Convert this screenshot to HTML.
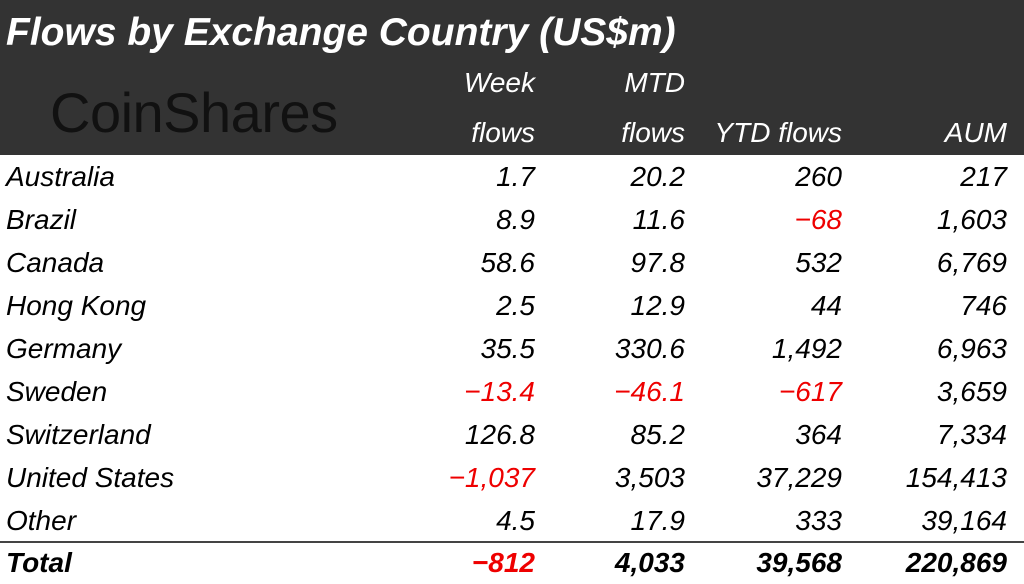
<!DOCTYPE html>
<html><head><style>
body{margin:0;width:1024px;height:584px;background:#fff;overflow:hidden;position:relative;font-family:"Liberation Sans",sans-serif;font-style:italic}
.hd{position:absolute;left:0;top:0;width:1024px;height:155px;background:#333}
.t{position:absolute;left:6px;top:11px;color:#fff;font-size:39px;font-weight:bold;white-space:nowrap}
.logo{position:absolute;left:50px;top:80px;color:#111;font-style:normal;font-size:56px;letter-spacing:-0.5px}
.c{position:absolute;font-size:28px;white-space:nowrap;line-height:30px}
.w{color:#fff}
.r{text-align:right}
.red{color:#e00}
.b{font-weight:bold}
.line{position:absolute;left:0;top:541px;width:1024px;height:2px;background:#444}
</style></head><body>
<div class="hd"></div>
<div class="t">Flows by Exchange Country (US$m)</div>
<div class="logo">CoinShares</div>
<div class="c w r" style="right:489px;top:68px">Week</div>
<div class="c w r" style="right:489px;top:118px">flows</div>
<div class="c w r" style="right:339px;top:68px">MTD</div>
<div class="c w r" style="right:339px;top:118px">flows</div>
<div class="c w r" style="right:182px;top:118px">YTD flows</div>
<div class="c w r" style="right:17px;top:118px">AUM</div>
<div id="rows"></div>
<div class="line"></div>
<script>
var d=[["Australia","1.7","20.2","260","217"],["Brazil","8.9","11.6","-68","1,603"],["Canada","58.6","97.8","532","6,769"],["Hong Kong","2.5","12.9","44","746"],["Germany","35.5","330.6","1,492","6,963"],["Sweden","-13.4","-46.1","-617","3,659"],["Switzerland","126.8","85.2","364","7,334"],["United States","-1,037","3,503","37,229","154,413"],["Other","4.5","17.9","333","39,164"],["Total","-812","4,033","39,568","220,869"]];
var rs=[489,339,182,17],h="";
d.forEach(function(r,i){var y=162+i*43;if(i==9)y=548;var b=i==9?" b":"";
h+='<div class="c'+b+'" style="left:6px;top:'+y+'px">'+r[0]+'</div>';
for(var j=1;j<5;j++){var v=r[j];h+='<div class="c r'+b+(v[0]=="-"?" red":"")+'" style="right:'+rs[j-1]+'px;top:'+y+'px">'+v.replace("-","\u2212")+'</div>';}});
document.getElementById("rows").innerHTML=h;
</script>
</body></html>
